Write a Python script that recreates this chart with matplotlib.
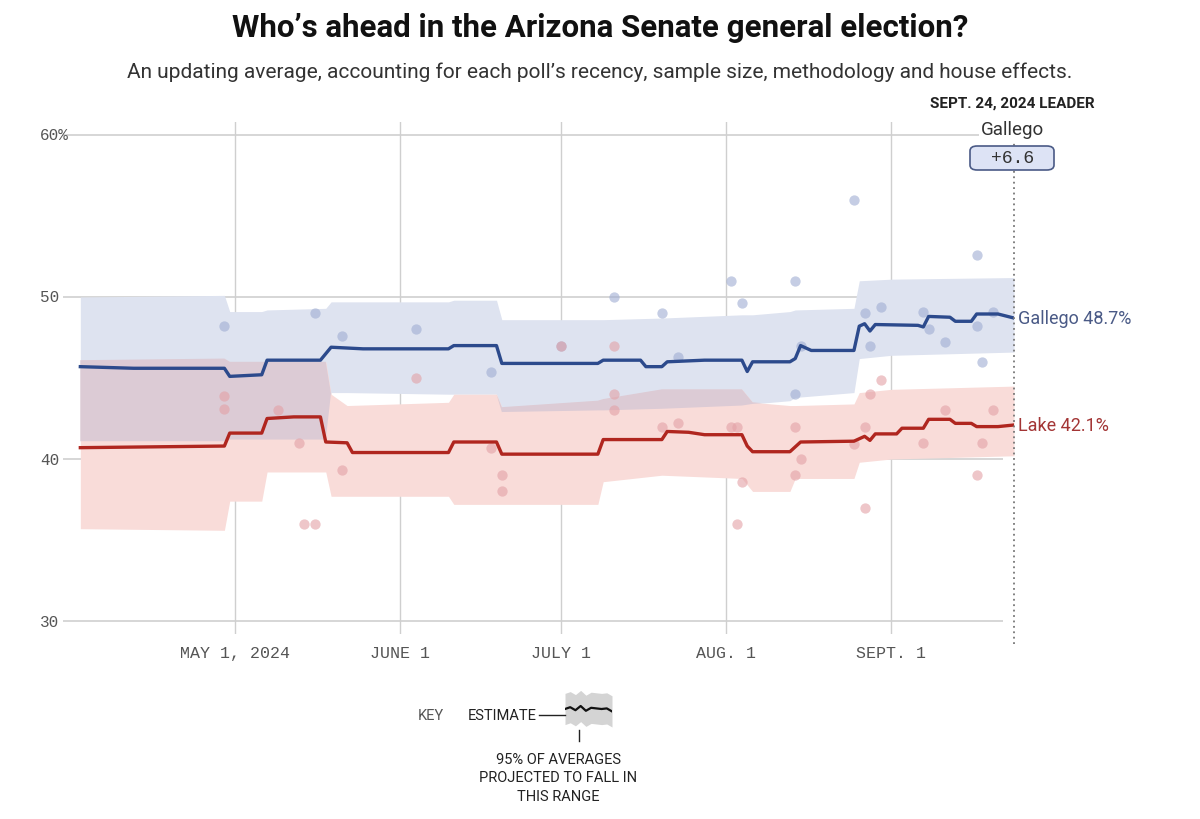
import matplotlib
matplotlib.use("Agg")
import matplotlib.pyplot as plt
import matplotlib.transforms as mtransforms
import numpy as np
import pandas as pd
from matplotlib.patches import FancyBboxPatch

# polling average (estimate) breakpoints
gallego_dates = ["2024-04-02", "2024-04-12", "2024-04-29", "2024-04-30", "2024-05-06", "2024-05-07",
                 "2024-05-17", "2024-05-19", "2024-05-25", "2024-06-10", "2024-06-11", "2024-06-19",
                 "2024-06-20", "2024-07-08", "2024-07-09", "2024-07-16", "2024-07-17", "2024-07-20",
                 "2024-07-21", "2024-07-28", "2024-08-04", "2024-08-05", "2024-08-06", "2024-08-13",
                 "2024-08-14", "2024-08-15", "2024-08-17", "2024-08-25", "2024-08-26", "2024-08-27",
                 "2024-08-28", "2024-08-29", "2024-09-06", "2024-09-07", "2024-09-08", "2024-09-12",
                 "2024-09-13", "2024-09-16", "2024-09-17", "2024-09-21", "2024-09-24"]
gallego_avg = [45.7, 45.6, 45.6, 45.1, 45.2, 46.1,
               46.1, 46.9, 46.8, 46.8, 47.0, 47.0,
               45.9, 45.9, 46.1, 46.1, 45.7, 45.7,
               46.0, 46.1, 46.1, 45.4, 46.0, 46.0,
               46.2, 47.0, 46.7, 46.7, 48.2, 48.35,
               47.9, 48.3, 48.25, 48.15, 48.8, 48.75,
               48.5, 48.5, 48.95, 48.95, 48.7]

lake_dates = ["2024-04-02", "2024-04-29", "2024-04-30", "2024-05-06", "2024-05-07", "2024-05-12",
              "2024-05-17", "2024-05-18", "2024-05-22", "2024-05-23", "2024-06-10", "2024-06-11",
              "2024-06-19", "2024-06-20", "2024-07-08", "2024-07-09", "2024-07-20", "2024-07-21",
              "2024-07-25", "2024-07-28", "2024-08-04", "2024-08-05", "2024-08-06", "2024-08-13",
              "2024-08-15", "2024-08-25", "2024-08-27", "2024-08-28", "2024-08-29", "2024-09-02",
              "2024-09-03", "2024-09-07", "2024-09-08", "2024-09-12", "2024-09-13", "2024-09-16",
              "2024-09-17", "2024-09-21", "2024-09-24"]
lake_avg = [40.7, 40.8, 41.6, 41.6, 42.5, 42.6,
            42.6, 41.05, 41.0, 40.4, 40.4, 41.05,
            41.05, 40.3, 40.3, 41.2, 41.2, 41.7,
            41.65, 41.5, 41.5, 40.8, 40.45, 40.45,
            41.05, 41.1, 41.4, 41.15, 41.55, 41.55,
            41.9, 41.9, 42.45, 42.45, 42.2, 42.2,
            42.0, 42.0, 42.1]

# 95% ranges
band_dates = ["2024-04-02", "2024-04-29", "2024-04-30", "2024-05-06", "2024-05-07", "2024-05-18",
              "2024-05-19", "2024-05-22", "2024-06-10", "2024-06-11", "2024-06-19", "2024-06-20",
              "2024-07-08", "2024-07-09", "2024-07-20", "2024-08-04", "2024-08-06", "2024-08-13",
              "2024-08-14", "2024-08-25", "2024-08-26", "2024-09-01", "2024-09-24"]
gallego_hi = [50.0, 50.1, 49.1, 49.1, 49.2, 49.3, 49.7, 49.7, 49.7, 49.8, 49.8, 48.6,
              48.6, 48.6, 48.7, 48.9, 48.9, 49.1, 49.2, 49.3, 51.0, 51.1, 51.2]
gallego_lo = [41.1, 41.1, 41.2, 41.2, 41.2, 41.2, 44.1, 44.1, 44.0, 44.0, 44.0, 42.9,
              43.0, 43.0, 43.1, 43.3, 43.4, 43.6, 43.8, 44.1, 46.2, 46.4, 46.6]
lake_hi = [46.1, 46.2, 46.0, 46.0, 46.0, 46.0, 44.0, 43.3, 43.5, 44.0, 44.0, 43.2,
           43.6, 43.7, 44.3, 44.3, 43.5, 43.3, 43.3, 43.4, 44.1, 44.3, 44.5]
lake_lo = [35.7, 35.6, 37.4, 37.4, 39.2, 39.2, 37.7, 37.7, 37.7, 37.2, 37.2, 37.2,
           37.2, 38.6, 39.0, 38.8, 38.0, 38.0, 38.8, 38.8, 39.8, 40.0, 40.2]

# individual polls
gallego_poll_dates = ["2024-04-29", "2024-05-16", "2024-05-21", "2024-06-04", "2024-06-18", "2024-07-01",
                      "2024-07-11", "2024-07-20", "2024-07-23", "2024-08-02", "2024-08-04", "2024-08-14",
                      "2024-08-15", "2024-08-14", "2024-08-25", "2024-08-27", "2024-08-28", "2024-08-30",
                      "2024-09-07", "2024-09-08", "2024-09-11", "2024-09-17", "2024-09-17", "2024-09-18",
                      "2024-09-20"]
gallego_polls = [48.2, 49.0, 47.6, 48.0, 45.4, 47.0,
                 50.0, 49.0, 46.3, 51.0, 49.6, 51.0,
                 47.0, 44.0, 56.0, 49.0, 47.0, 49.4,
                 49.1, 48.0, 47.2, 52.6, 48.2, 46.0,
                 49.1]
lake_poll_dates = ["2024-04-29", "2024-04-29", "2024-05-09", "2024-05-13", "2024-05-14", "2024-05-16",
                   "2024-05-21", "2024-06-04", "2024-06-18", "2024-06-20", "2024-06-20", "2024-07-01",
                   "2024-07-11", "2024-07-11", "2024-07-11", "2024-07-20", "2024-07-23", "2024-08-02",
                   "2024-08-03", "2024-08-04", "2024-08-03", "2024-08-14", "2024-08-15", "2024-08-14",
                   "2024-08-25", "2024-08-27", "2024-08-27", "2024-08-28", "2024-08-30", "2024-09-07",
                   "2024-09-11", "2024-09-17", "2024-09-18", "2024-09-20"]
lake_polls = [43.9, 43.1, 43.0, 41.0, 36.0, 36.0,
              39.3, 45.0, 40.7, 39.0, 38.0, 47.0,
              47.0, 44.0, 43.0, 42.0, 42.2, 42.0,
              42.0, 38.6, 36.0, 42.0, 40.0, 39.0,
              40.9, 42.0, 37.0, 44.0, 44.9, 41.0,
              43.0, 39.0, 41.0, 43.0]

month_ticks = ["2024-05-01", "2024-06-01", "2024-07-01", "2024-08-01", "2024-09-01"]
month_labels = ["MAY 1, 2024", "JUNE 1", "JULY 1", "AUG. 1", "SEPT. 1"]
y_ticks = [30, 40, 50, 60]
y_labels = ["30", "40", "50", "60%"]

key_wave = [0.0, 0.3, -0.2, 0.5, -0.3, 0.2, 0.1, 0.0, 0.1, -0.4]

BLUE = "#2c4a8c"
RED = "#b0261f"
BLUE_BAND = "#dee3f0"
RED_BAND = "#f9dcd9"
MIX_BAND = "#dccbd5"
MONO = "Liberation Mono"
SANS = "Roboto"

to_dt = pd.to_datetime

fig = plt.figure(figsize=(12, 8.2), dpi=100)
ax = fig.add_axes([63 / 1200, 1 - 635 / 820, (1014 - 63) / 1200, (635 - 123) / 820])

x_start = to_dt("2024-03-30") - pd.Timedelta(hours=6)
x_end = to_dt("2024-09-24")
ax.set_xlim(x_start, x_end)
ax.set_ylim(29.2, 60.8)

# grid
for v in y_ticks:
    ax.hlines(v, x_start, to_dt("2024-09-22"), color="#d3d3d3", lw=1.3, zorder=1)
for d in month_ticks:
    ax.axvline(to_dt(d), color="#cfcfcf", lw=1.0, zorder=1)

# bands
bd = to_dt(band_dates)
g_hi, g_lo = np.array(gallego_hi), np.array(gallego_lo)
l_hi, l_lo = np.array(lake_hi), np.array(lake_lo)
ax.fill_between(bd, g_lo, g_hi, color=BLUE_BAND, lw=0, zorder=2)
ax.fill_between(bd, l_lo, l_hi, color=RED_BAND, lw=0, zorder=2)
ov_lo = np.maximum(g_lo, l_lo)
ov_hi = np.minimum(g_hi, l_hi)
ax.fill_between(bd, ov_lo, ov_hi, where=ov_hi > ov_lo, interpolate=True,
                color=MIX_BAND, lw=0, zorder=3)

# polls
ax.scatter(to_dt(gallego_poll_dates), gallego_polls, s=55, color="#9fadd2", alpha=0.6, lw=0, zorder=4)
ax.scatter(to_dt(lake_poll_dates), lake_polls, s=55, color="#e3a1a6", alpha=0.6, lw=0, zorder=4)

# averages
ax.plot(to_dt(gallego_dates), gallego_avg, color=BLUE, lw=2.4, zorder=5, solid_joinstyle="round")
ax.plot(to_dt(lake_dates), lake_avg, color=RED, lw=2.4, zorder=5, solid_joinstyle="round")

for s in ax.spines.values():
    s.set_visible(False)
ax.set_yticks([])
ax.set_xticks(to_dt(month_ticks))
ax.set_xticklabels(month_labels, family=MONO, fontsize=12, color="#555555")
ax.tick_params(axis="x", length=0, pad=8)

# y labels, left aligned outside the axes
blend = mtransforms.blended_transform_factory(fig.transFigure, ax.transData)
for v, lab in zip(y_ticks, y_labels):
    ax.text(40 / 1200, v, lab, transform=blend, family=MONO, fontsize=11.5,
            color="#555555", va="center", ha="left")

# end labels
ax.annotate(f"Gallego {gallego_avg[-1]:.1f}%", xy=(x_end, gallego_avg[-1]), xytext=(3, 0),
            textcoords="offset points", va="center", ha="left", fontsize=13,
            family=SANS, color="#4a5a86", annotation_clip=False)
ax.annotate(f"Lake {lake_avg[-1]:.1f}%", xy=(x_end, lake_avg[-1]), xytext=(3, 0),
            textcoords="offset points", va="center", ha="left", fontsize=13,
            family=SANS, color="#a33535", annotation_clip=False)

# dotted "today" line
ax.plot([x_end, x_end], [28.6, 59.6], color="#777777", lw=1.3, ls=(0, (1, 2)),
        clip_on=False, zorder=6)

# leader box
lead = gallego_avg[-1] - lake_avg[-1]
fig.text(1012 / 1200, 1 - 104 / 820, "SEPT. 24, 2024 LEADER", ha="center", va="center",
         fontsize=11, fontweight="bold", family=SANS, color="#222222")
fig.text(1012 / 1200, 1 - 130 / 820, "Gallego", ha="center", va="center",
         fontsize=13.5, family=SANS, color="#333333",
         bbox=dict(boxstyle="square,pad=0.1", fc="white", ec="none"))
box = FancyBboxPatch((970 / 1200, 1 - 171 / 820), 84 / 1200, 24 / 820,
                     boxstyle="round,pad=0,rounding_size=0.006", transform=fig.transFigure,
                     fc="#dde3f5", ec="#4a5a86", lw=1.2, zorder=10)
fig.add_artist(box)
fig.text(1012 / 1200, 1 - 159 / 820, f"+{lead:.1f}", ha="center", va="center",
         fontsize=13, family=MONO, color="#333333", zorder=11)

# title
fig.text(0.5, 1 - 28 / 820, "Who’s ahead in the Arizona Senate general election?",
         ha="center", va="center", fontsize=22.5, fontweight="bold", family=SANS, color="#111111")
fig.text(0.5, 1 - 72 / 820,
         "An updating average, accounting for each poll’s recency, sample size, methodology and house effects.",
         ha="center", va="center", fontsize=15, family=SANS, color="#333333")

# key
fig.text(431 / 1200, 1 - 716 / 820, "KEY", ha="center", va="center", fontsize=10.5,
         family=SANS, color="#555555")
fig.text(502 / 1200, 1 - 716 / 820, "ESTIMATE", ha="center", va="center", fontsize=10.5,
         family=SANS, color="#222222")
kx = fig.add_axes([565 / 1200, 1 - 728 / 820, 47 / 1200, 36 / 820])
kx.set_xlim(0, len(key_wave) - 1)
kx.set_ylim(-3, 3)
kxs = np.arange(len(key_wave))
kx.fill_between(kxs, np.array(key_wave) - 2.6, np.array(key_wave) + 2.6, color="#d4d4d4", lw=0)
kx.plot(kxs, key_wave, color="#111111", lw=1.6)
kx.axis("off")
fig.add_artist(plt.Line2D([539 / 1200, 565 / 1200], [1 - 716 / 820, 1 - 716 / 820],
                          color="#222222", lw=1, transform=fig.transFigure))
fig.add_artist(plt.Line2D([579 / 1200, 579 / 1200], [1 - 731 / 820, 1 - 742 / 820],
                          color="#222222", lw=1, transform=fig.transFigure))
for i, line in enumerate(["95% OF AVERAGES", "PROJECTED TO FALL IN", "THIS RANGE"]):
    fig.text(558 / 1200, 1 - (760 + 18.5 * i) / 820, line, ha="center", va="center",
             fontsize=10.5, family=SANS, color="#222222")

fig.savefig("out.png", dpi=100, facecolor="white")
